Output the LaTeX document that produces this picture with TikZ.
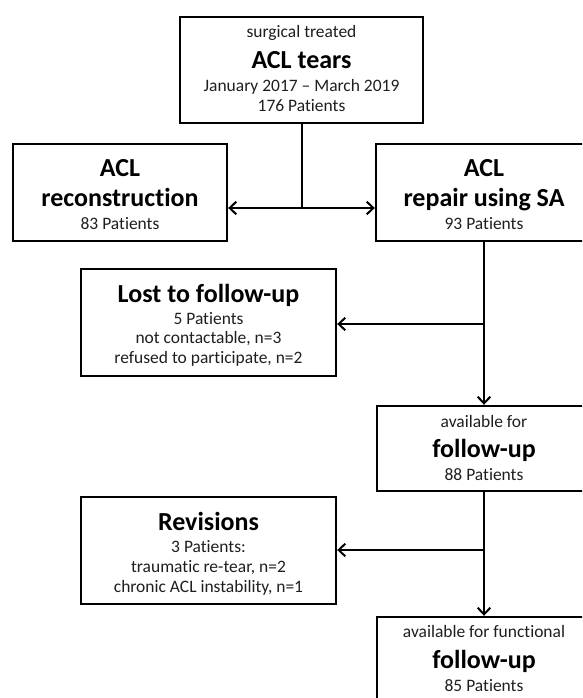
\documentclass[tikz,border=0pt]{standalone}
\usepackage{fontspec}
\setmainfont{Carlito}[Ligatures=NoCommon]
\usetikzlibrary{arrows.meta}
\begin{document}
\begin{tikzpicture}[x=0.75pt,y=-0.75pt,
  box/.style={draw, line width=1.8pt, rectangle, inner sep=0pt},
  reg/.style={font=\fontsize{13.1}{15}\selectfont, anchor=base, inner sep=0pt, text={rgb,255:red,30;green,30;blue,30}},
  hd/.style={font=\fontsize{19.5}{22}\selectfont\bfseries, anchor=base, inner sep=0pt},
  conn/.style={line width=1.5pt},
  tip/.tip={Straight Barb[length=5pt,width=9.5pt,line width=1.5pt]}
]
\useasboundingbox (0,0) rectangle (582,698);
\clip (0,0) rectangle (582,698);
\newcommand\mkbox[5]{\node[box, minimum width={(#4-#2)*0.75pt}, minimum height={(#5-#3)*0.75pt}] (#1) at ({(#2+#4)/2},{(#3+#5)/2}) {};}
% boxes
\mkbox{top}{180}{17}{423}{123}
\mkbox{recon}{13}{144}{227}{241}
\mkbox{repair}{376}{144}{592}{241}
\mkbox{lost}{81}{269}{336}{376}
\mkbox{avail}{377}{406}{591}{491}
\mkbox{rev}{81}{497}{336}{604}
\mkbox{fin}{377}{617}{591}{712}
% texts
\node[reg] (t1) at (301.5,37.5) {surgical treated};
\node[hd]  (t2) at (301.5,69) {ACL tears};
\node[reg] (t3) at (301.5,91.5) {January 2017 – March 2019};
\node[reg] (t4) at (301.5,112) {176 Patients};
\node[hd]  (r1) at (120,177) {ACL};
\node[hd]  (r2) at (120,207) {reconstruction};
\node[reg] (r3) at (120,229) {83 Patients};
\node[hd]  (p1) at (484,177) {ACL};
\node[hd]  (p2) at (484,207) {repair using SA};
\node[reg] (p3) at (484,229) {93 Patients};
\node[hd]  (l1) at (208.5,302) {Lost to follow-up};
\node[reg] (l2) at (208.5,324.5) {5 Patients};
\node[reg] (l3) at (208.5,343.5) {not contactable, n=3};
\node[reg] (l4) at (208.5,363) {refused to participate, n=2};
\node[reg] (a1) at (484,427) {available for};
\node[hd]  (a2) at (484,457) {follow-up};
\node[reg] (a3) at (484,480) {88 Patients};
\node[hd]  (v1) at (208.5,530) {Revisions};
\node[reg] (v2) at (208.5,552) {3 Patients:};
\node[reg] (v3) at (208.5,572) {traumatic re-tear, n=2};
\node[reg] (v4) at (208.5,592) {chronic ACL instability, n=1};
\node[reg] (f1) at (484,637) {available for functional};
\node[hd]  (f2) at (484,668) {follow-up};
\node[reg] (f3) at (484,691) {85 Patients};
% junctions
\coordinate (j1) at (301.5,208);
\coordinate (j2) at (484,324);
\coordinate (j3) at (484,550);
% connectors
\draw[conn] (top.south) -- (j1);
\draw[conn,{tip}-{tip}] (recon.east |- j1) -- (repair.west |- j1);
\draw[conn,-{tip}] (repair.south) -- (avail.north);
\draw[conn,-{tip}] (j2) -- (lost.east |- j2);
\draw[conn,-{tip}] (avail.south) -- (fin.north);
\draw[conn,-{tip}] (j3) -- (rev.east |- j3);
\end{tikzpicture}
\end{document}
